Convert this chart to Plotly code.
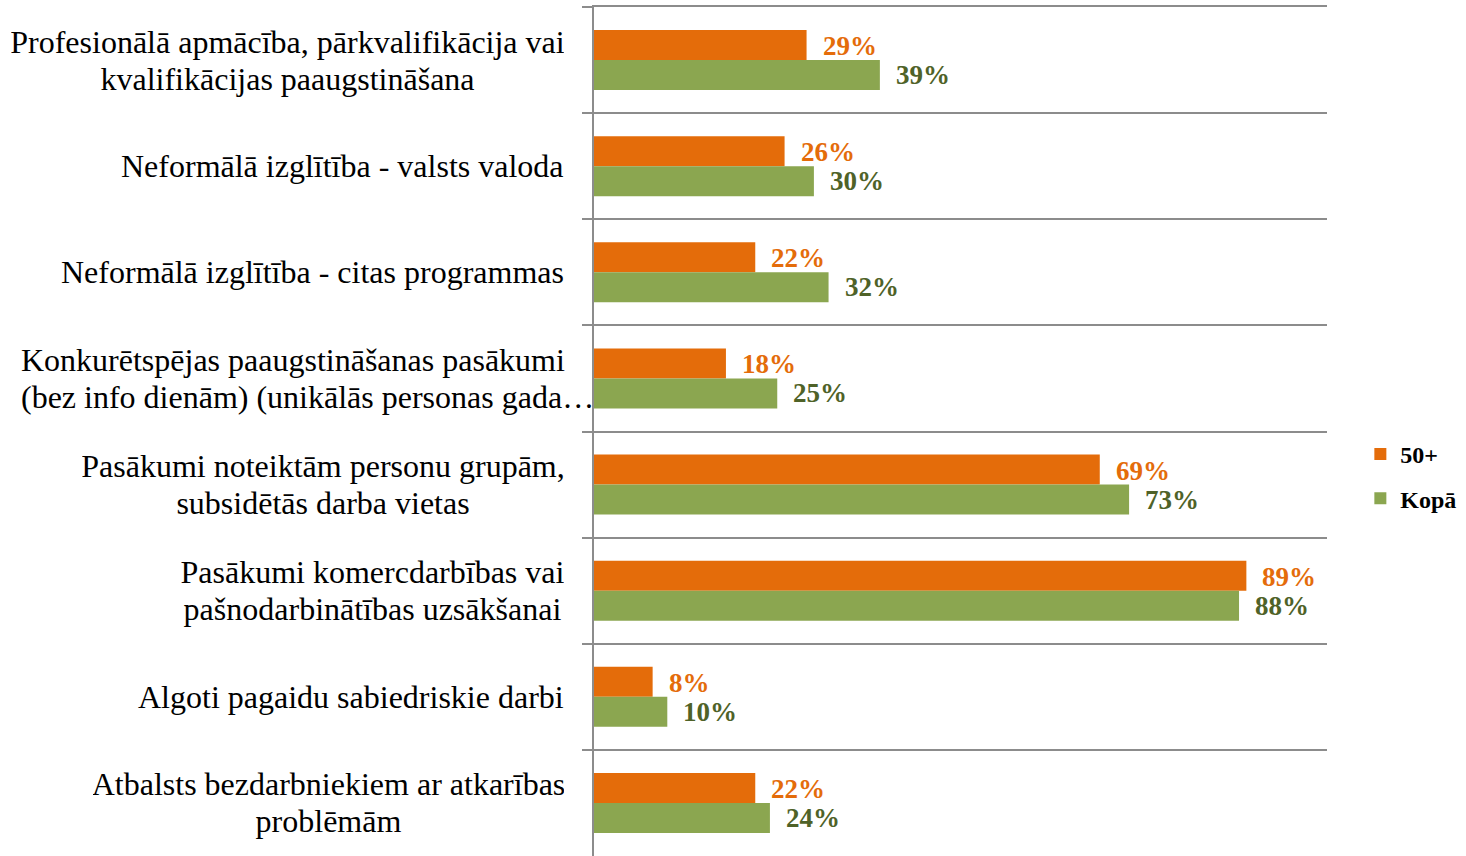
import plotly.graph_objects as go

categories = [
    "Profesionālā apmācība, pārkvalifikācija vai<br>kvalifikācijas paaugstināšana",
    "Neformālā izglītība - valsts valoda",
    "Neformālā izglītība - citas programmas",
    "Konkurētspējas paaugstināšanas pasākumi<br>(bez info dienām) (unikālās personas gada…",
    "Pasākumi noteiktām personu grupām,<br>subsidētās darba vietas",
    "Pasākumi komercdarbības vai<br>pašnodarbinātības uzsākšanai",
    "Algoti pagaidu sabiedriskie darbi",
    "Atbalsts bezdarbniekiem ar atkarības<br>problēmām",
]
series_names = ["50+", "Kopā"]
values_50 = [0.29, 0.26, 0.22, 0.18, 0.69, 0.89, 0.08, 0.22]
values_kopa = [0.39, 0.30, 0.32, 0.25, 0.73, 0.88, 0.10, 0.24]

# layout/style for the category label blocks: (box width px, alignment, right gap px)
label_box = [
    (553, "center", -28),
    (None, "center", -28),
    (None, "center", -28),
    (571, "left", 0),
    (482, "center", -28),
    (383, "center", -28),
    (None, "center", -28),
    (471, "center", -28),
]

bar_colors = ["#E46C0A", "#8BA650"]
label_colors = ["#E46C0A", "#4F6228"]
FONT = "Liberation Serif, Times New Roman, serif"
GRID = "#8C8C8C"
LINE_GAP = 37

fig = go.Figure()
for i, (name, vals) in enumerate(zip(series_names, [values_50, values_kopa])):
    fig.add_trace(go.Bar(
        y=categories, x=vals, name=name, orientation="h",
        marker=dict(color=bar_colors[i], line=dict(width=0)),
        legendgroup=name,
    ))

annotations = []
for i, vals in enumerate([values_50, values_kopa]):
    shift = 14 if i == 0 else -15
    for c, v in zip(categories, vals):
        annotations.append(dict(
            x=v, y=c, xref="x", yref="y", text=f"<b>{round(v*100)}%</b>",
            showarrow=False, xanchor="left", yanchor="middle",
            xshift=14, yshift=shift,
            font=dict(family=FONT, size=27, color=label_colors[i]),
        ))

for c, (w, al, xs) in zip(categories, label_box):
    lines = c.split("<br>")
    n = len(lines)
    for k, ln in enumerate(lines):
        ys = ((n - 1) / 2 - k) * LINE_GAP
        ann = dict(
            x=0, y=c, xref="paper", yref="y", text=ln, showarrow=False,
            xanchor="right", yanchor="middle", align=al, xshift=xs, yshift=ys,
            font=dict(family=FONT, size=32, color="#000000"),
        )
        if w is not None:
            ann["width"] = w
        annotations.append(ann)

fig.update_layout(
    width=1466, height=856,
    margin=dict(l=594, r=139, t=7, b=0, autoexpand=False),
    paper_bgcolor="white", plot_bgcolor="white",
    barmode="group", bargap=0.434, bargroupgap=0,
    showlegend=True,
    legend=dict(
        x=1.0455, y=0.447, xanchor="left", yanchor="middle",
        traceorder="grouped", tracegroupgap=10,
        font=dict(family=FONT, size=24, color="#000000", weight="bold"),
        bgcolor="rgba(0,0,0,0)",
    ),
    font=dict(family=FONT),
    annotations=annotations,
)
fig.update_xaxes(range=[0, 1], side="top", showgrid=False, showticklabels=False,
                 zeroline=False, showline=True, linecolor=GRID, linewidth=2,
                 ticks="")
fig.update_yaxes(autorange="reversed", type="category",
                 tickson="boundaries", ticks="outside", ticklen=10,
                 tickcolor=GRID, tickwidth=2,
                 showgrid=True, gridcolor=GRID, gridwidth=2,
                 showline=True, linecolor=GRID, linewidth=2,
                 showticklabels=False, zeroline=False)

fig.write_html("out.html", config={"displayModeBar": False},
               post_script="document.body.style.margin='0';document.body.style.overflow='hidden';")
